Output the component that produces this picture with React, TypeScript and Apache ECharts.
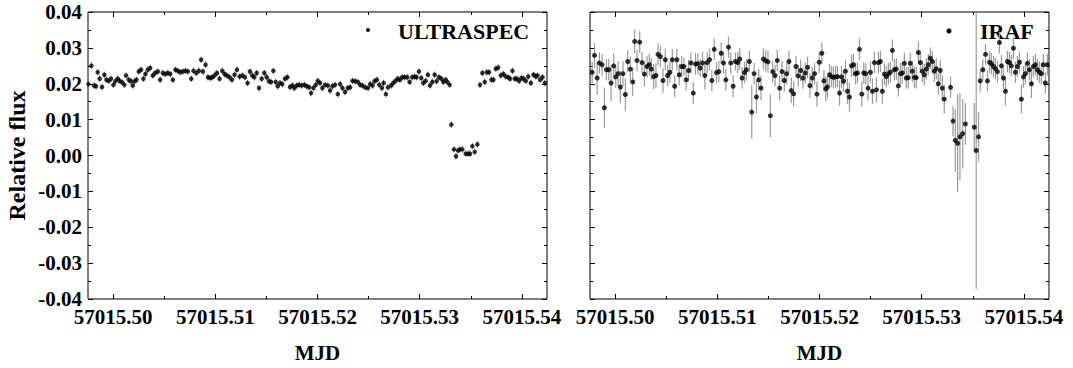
import React, { useEffect, useRef } from "react";
import * as echarts from "echarts";

// ULTRASPEC light curve: [MJD, relative flux]
const ultraspecPoints: number[][] = [
  [57015.4976, 0.0199], [57015.49788, 0.025], [57015.49814, 0.0195], [57015.49833, 0.0193], [57015.4985, 0.0232],
  [57015.49869, 0.0214], [57015.49892, 0.0191], [57015.49915, 0.0225], [57015.49935, 0.0211], [57015.49958, 0.0208],
  [57015.4998, 0.0214], [57015.50003, 0.0197], [57015.50023, 0.0207], [57015.50046, 0.0214], [57015.50065, 0.0208],
  [57015.50088, 0.0204], [57015.50111, 0.0197], [57015.50127, 0.0223], [57015.50154, 0.0211], [57015.50176, 0.0207],
  [57015.50193, 0.0195], [57015.50212, 0.0207], [57015.50229, 0.0211], [57015.50252, 0.0234], [57015.50274, 0.0239],
  [57015.50297, 0.0214], [57015.50317, 0.0227], [57015.5034, 0.0239], [57015.50363, 0.0244], [57015.50389, 0.0223],
  [57015.50412, 0.023], [57015.50438, 0.0234], [57015.50461, 0.0211], [57015.50487, 0.023], [57015.5051, 0.0227],
  [57015.50536, 0.023], [57015.50559, 0.0227], [57015.50585, 0.0211], [57015.50611, 0.0239], [57015.50634, 0.0236],
  [57015.50657, 0.0232], [57015.50683, 0.0234], [57015.50709, 0.0236], [57015.50732, 0.0234], [57015.50765, 0.0214],
  [57015.50787, 0.0236], [57015.50814, 0.023], [57015.5084, 0.0236], [57015.50862, 0.0267], [57015.50879, 0.0234],
  [57015.50905, 0.0253], [57015.50928, 0.0218], [57015.50951, 0.0216], [57015.5097, 0.0218], [57015.50993, 0.0223],
  [57015.51016, 0.023], [57015.51042, 0.0214], [57015.51068, 0.0236], [57015.51091, 0.0227], [57015.51114, 0.0223],
  [57015.5114, 0.0218], [57015.51163, 0.0211], [57015.51189, 0.0225], [57015.51212, 0.0239], [57015.51238, 0.022],
  [57015.51264, 0.0223], [57015.5129, 0.0218], [57015.51316, 0.0202], [57015.51339, 0.0234], [57015.51362, 0.0223],
  [57015.51382, 0.0218], [57015.51405, 0.023], [57015.51428, 0.0188], [57015.51454, 0.0214], [57015.5148, 0.023],
  [57015.51503, 0.0218], [57015.51526, 0.0207], [57015.51545, 0.0205], [57015.51568, 0.0236], [57015.51591, 0.0205],
  [57015.51611, 0.0193], [57015.51633, 0.0202], [57015.51656, 0.0199], [57015.51682, 0.0214], [57015.51705, 0.0218],
  [57015.51731, 0.0191], [57015.51754, 0.0195], [57015.51774, 0.0188], [57015.51797, 0.0195], [57015.5182, 0.0197],
  [57015.51846, 0.0195], [57015.51872, 0.0197], [57015.51895, 0.0193], [57015.51918, 0.019], [57015.51937, 0.0174],
  [57015.5196, 0.0188], [57015.51983, 0.0197], [57015.52003, 0.0208], [57015.52025, 0.0202], [57015.52048, 0.0188],
  [57015.52074, 0.0197], [57015.52101, 0.0195], [57015.52123, 0.0181], [57015.52146, 0.0193], [57015.52172, 0.0197],
  [57015.52199, 0.0171], [57015.52221, 0.0199], [57015.52244, 0.0188], [57015.5227, 0.0177], [57015.52297, 0.0188],
  [57015.52319, 0.019], [57015.52342, 0.0208], [57015.52368, 0.0207], [57015.52395, 0.0205], [57015.52417, 0.0197],
  [57015.5244, 0.0195], [57015.52466, 0.019], [57015.52493, 0.0188], [57015.52515, 0.0199], [57015.52538, 0.0195],
  [57015.52558, 0.0207], [57015.52581, 0.0211], [57015.52604, 0.0197], [57015.5263, 0.0188], [57015.52646, 0.0202],
  [57015.52669, 0.0171], [57015.52689, 0.019],
  [57015.52721, 0.0195], [57015.52741, 0.0202], [57015.52764, 0.0208], [57015.52786, 0.0214], [57015.52806, 0.0211],
  [57015.52829, 0.0218], [57015.52852, 0.0218], [57015.52878, 0.0218], [57015.52901, 0.0205], [57015.52927, 0.0218],
  [57015.5295, 0.022], [57015.52969, 0.0218], [57015.52992, 0.0234], [57015.53015, 0.0216], [57015.53035, 0.0202],
  [57015.53058, 0.0208], [57015.5308, 0.0225], [57015.531, 0.0195], [57015.53123, 0.0205], [57015.53146, 0.0225],
  [57015.53165, 0.0207], [57015.53188, 0.0218], [57015.53211, 0.0214], [57015.53231, 0.0205], [57015.53254, 0.0211],
  [57015.5327, 0.0205], [57015.53293, 0.0197], [57015.53309, 0.0086], [57015.53335, 0.0017], [57015.53355, -0.0002],
  [57015.53375, 0.0014], [57015.53394, 0.0017], [57015.53417, 0.0017], [57015.5345, 0.0005], [57015.53473, 0.0005],
  [57015.53492, 0.0005], [57015.53515, 0.0026], [57015.53538, 0.001], [57015.53564, 0.0031], [57015.5359, 0.0197],
  [57015.53613, 0.023], [57015.53636, 0.0205], [57015.53656, 0.0232], [57015.53678, 0.0232], [57015.53701, 0.0211],
  [57015.53721, 0.0211], [57015.53744, 0.0242], [57015.53767, 0.0245], [57015.53793, 0.0223], [57015.53819, 0.0227],
  [57015.53842, 0.022], [57015.53865, 0.0218], [57015.53884, 0.0214], [57015.53907, 0.0236], [57015.5393, 0.0214],
  [57015.5395, 0.0214], [57015.53972, 0.0208], [57015.53995, 0.0216], [57015.54015, 0.0214], [57015.54038, 0.0208],
  [57015.54061, 0.022], [57015.54087, 0.0202], [57015.54113, 0.0225], [57015.54136, 0.022], [57015.54152, 0.0223],
  [57015.54178, 0.0211], [57015.54201, 0.0218], [57015.54224, 0.0202],
];
const ULTRASPEC_ERR = 0.0009;

// IRAF light curve: [MJD, relative flux, error]
const irafPoints: number[][] = [
  [57015.49776, 0.0232, 0.003], [57015.49799, 0.0279, 0.0035], [57015.49825, 0.0216, 0.0045], [57015.49847, 0.0258, 0.003],
  [57015.49873, 0.0253, 0.003], [57015.49896, 0.0133, 0.0056], [57015.49916, 0.0239, 0.003], [57015.49938, 0.0239, 0.003],
  [57015.49961, 0.0202, 0.005], [57015.49987, 0.025, 0.0035], [57015.50007, 0.0219, 0.003], [57015.5003, 0.0228, 0.0035],
  [57015.50052, 0.0191, 0.0045], [57015.50078, 0.0228, 0.0035], [57015.50101, 0.017, 0.0045], [57015.50124, 0.0262, 0.003],
  [57015.5015, 0.0241, 0.0035], [57015.50173, 0.0205, 0.004], [57015.50192, 0.0318, 0.0033], [57015.50215, 0.0265, 0.003],
  [57015.50241, 0.0316, 0.003], [57015.50264, 0.0259, 0.003], [57015.50287, 0.0227, 0.0035], [57015.50313, 0.0248, 0.003],
  [57015.50335, 0.0253, 0.003], [57015.50355, 0.0241, 0.003], [57015.50378, 0.022, 0.0035], [57015.504, 0.0223, 0.0035],
  [57015.5042, 0.0282, 0.003], [57015.50443, 0.0276, 0.003], [57015.50469, 0.0209, 0.0035], [57015.50492, 0.0267, 0.003],
  [57015.50514, 0.0223, 0.003], [57015.50537, 0.0232, 0.003], [57015.5056, 0.0267, 0.003], [57015.50583, 0.0193, 0.003],
  [57015.50605, 0.0267, 0.003], [57015.50628, 0.0225, 0.003], [57015.50651, 0.0248, 0.003], [57015.50674, 0.0248, 0.0025],
  [57015.50696, 0.0211, 0.003], [57015.50719, 0.0237, 0.003], [57015.50742, 0.0258, 0.003], [57015.50765, 0.0174, 0.003],
  [57015.50787, 0.0255, 0.003], [57015.5081, 0.0256, 0.003], [57015.50833, 0.0244, 0.0025], [57015.50856, 0.0258, 0.003],
  [57015.50879, 0.0223, 0.004], [57015.50901, 0.0259, 0.003], [57015.50924, 0.0267, 0.003], [57015.50947, 0.0209, 0.003],
  [57015.5097, 0.0296, 0.003], [57015.50992, 0.0231, 0.003], [57015.51015, 0.0234, 0.003], [57015.51038, 0.0285, 0.003],
  [57015.51061, 0.0258, 0.003], [57015.51084, 0.0211, 0.003], [57015.5111, 0.0302, 0.003], [57015.51132, 0.0258, 0.003],
  [57015.51155, 0.0193, 0.003], [57015.51178, 0.0262, 0.0025], [57015.51201, 0.0259, 0.003], [57015.5122, 0.0269, 0.003],
  [57015.51243, 0.0216, 0.003], [57015.51266, 0.0231, 0.003],
  [57015.51285, 0.0239, 0.003], [57015.51314, 0.0262, 0.003], [57015.51337, 0.0121, 0.0074], [57015.5136, 0.0228, 0.003],
  [57015.51383, 0.0163, 0.0046], [57015.51405, 0.0211, 0.003], [57015.51428, 0.0188, 0.0035], [57015.51451, 0.0269, 0.003],
  [57015.51474, 0.0264, 0.003], [57015.51496, 0.0261, 0.003], [57015.51519, 0.0111, 0.006], [57015.51542, 0.0234, 0.003],
  [57015.51565, 0.0223, 0.003], [57015.51587, 0.0265, 0.003], [57015.5161, 0.0188, 0.0035], [57015.51633, 0.0234, 0.003],
  [57015.51656, 0.0209, 0.003], [57015.51679, 0.0228, 0.003], [57015.51701, 0.0262, 0.003], [57015.51724, 0.0181, 0.0035],
  [57015.51747, 0.0172, 0.0035], [57015.5177, 0.0248, 0.003], [57015.51792, 0.0222, 0.003], [57015.51815, 0.0237, 0.003],
  [57015.51838, 0.0216, 0.003], [57015.51861, 0.023, 0.003], [57015.51883, 0.0246, 0.003], [57015.51906, 0.0195, 0.0035],
  [57015.51929, 0.0216, 0.003], [57015.51952, 0.0228, 0.003], [57015.51975, 0.0171, 0.0035], [57015.51997, 0.026, 0.003],
  [57015.52023, 0.0285, 0.003], [57015.52043, 0.0208, 0.003], [57015.52062, 0.0186, 0.0035], [57015.52078, 0.0191, 0.003],
  [57015.52098, 0.0225, 0.003], [57015.52118, 0.022, 0.003], [57015.52137, 0.0218, 0.003], [57015.52157, 0.0219, 0.003],
  [57015.52176, 0.022, 0.003], [57015.52196, 0.0174, 0.0035], [57015.52215, 0.0219, 0.003], [57015.52235, 0.0207, 0.003],
  [57015.52254, 0.0235, 0.003], [57015.52274, 0.0179, 0.0035], [57015.52293, 0.0163, 0.004], [57015.52313, 0.025, 0.003],
  [57015.52332, 0.0253, 0.003], [57015.52352, 0.0228, 0.003], [57015.52371, 0.023, 0.003], [57015.52391, 0.0296, 0.003],
  [57015.52414, 0.0171, 0.0035], [57015.52433, 0.023, 0.003], [57015.52453, 0.0228, 0.003], [57015.52475, 0.0188, 0.0035],
  [57015.52498, 0.0232, 0.003], [57015.52518, 0.0179, 0.0035], [57015.52537, 0.0259, 0.003], [57015.52557, 0.0183, 0.0035],
  [57015.52576, 0.0259, 0.003], [57015.52596, 0.0262, 0.003], [57015.52615, 0.0179, 0.0035], [57015.52635, 0.0227, 0.003],
  [57015.52654, 0.022, 0.003], [57015.52674, 0.0228, 0.003], [57015.52693, 0.0232, 0.003], [57015.52713, 0.0293, 0.003],
  [57015.52732, 0.0239, 0.003], [57015.52752, 0.0241, 0.003], [57015.52771, 0.0194, 0.003], [57015.52791, 0.0228, 0.003],
  [57015.5281, 0.023, 0.003], [57015.5283, 0.0257, 0.003], [57015.52849, 0.0216, 0.003], [57015.52869, 0.0217, 0.003],
  [57015.52888, 0.0257, 0.003], [57015.52908, 0.0235, 0.003], [57015.52928, 0.0218, 0.003], [57015.52947, 0.0217, 0.003],
  [57015.52967, 0.0287, 0.003], [57015.52986, 0.0259, 0.003], [57015.53006, 0.0235, 0.003], [57015.53025, 0.0225, 0.003],
  [57015.53045, 0.0241, 0.003], [57015.53064, 0.0253, 0.003], [57015.53084, 0.0271, 0.003], [57015.53103, 0.0262, 0.003],
  [57015.53123, 0.0235, 0.003], [57015.53142, 0.0242, 0.003], [57015.53162, 0.02, 0.003], [57015.53181, 0.0237, 0.003],
  [57015.53201, 0.0188, 0.0035], [57015.5322, 0.0157, 0.004],
  [57015.53282, 0.019, 0.003], [57015.53306, 0.0096, 0.0042], [57015.53328, 0.0042, 0.0088], [57015.53351, 0.0034, 0.0136],
  [57015.53374, 0.0052, 0.0122], [57015.53401, 0.0061, 0.0097], [57015.53427, 0.0088, 0.0058], [57015.53514, 0.0079, 0.0067],
  [57015.53533, 0.0014, 0.0386], [57015.53556, 0.0052, 0.0069],
  [57015.53572, 0.0208, 0.003], [57015.53598, 0.0239, 0.003], [57015.53624, 0.0282, 0.003], [57015.53643, 0.0208, 0.003],
  [57015.53663, 0.026, 0.003], [57015.53682, 0.0256, 0.003], [57015.53702, 0.0248, 0.003], [57015.53721, 0.0242, 0.003],
  [57015.53741, 0.0234, 0.003], [57015.5376, 0.0315, 0.003], [57015.5378, 0.025, 0.003], [57015.53799, 0.0216, 0.003],
  [57015.53819, 0.0179, 0.004], [57015.53838, 0.0262, 0.003], [57015.53858, 0.0259, 0.003], [57015.53877, 0.025, 0.003],
  [57015.53897, 0.0299, 0.003], [57015.53916, 0.0232, 0.003], [57015.53936, 0.0248, 0.003], [57015.53956, 0.026, 0.003],
  [57015.53975, 0.0157, 0.004], [57015.53995, 0.0219, 0.003], [57015.54014, 0.0228, 0.003], [57015.54034, 0.0257, 0.003],
  [57015.54053, 0.0239, 0.003], [57015.54073, 0.02, 0.004], [57015.54092, 0.0248, 0.003], [57015.54112, 0.0253, 0.003],
  [57015.54131, 0.0239, 0.003], [57015.54151, 0.0232, 0.003], [57015.5417, 0.0228, 0.003], [57015.5419, 0.0253, 0.003],
  [57015.54209, 0.0202, 0.003], [57015.54229, 0.0253, 0.003],
];

const X_MIN = 57015.49755;
const X_MAX = 57015.54245;
const X_MAJOR = [57015.5, 57015.51, 57015.52, 57015.53, 57015.54];
const X_MINOR = [57015.505, 57015.515, 57015.525, 57015.535];
const Y_MIN = -0.04;
const Y_MAX = 0.04;
const Y_STEP = 0.01;
const PANEL_LABELS = ["ULTRASPEC", "IRAF"];
const X_NAME = "MJD";
const Y_NAME = "Relative flux";

const FONT = "Liberation Serif";

export default function App() {
  const ref = useRef<HTMLDivElement>(null);

  useEffect(() => {
    if (!ref.current) return;
    const chart = echarts.init(ref.current, null, { renderer: "svg" });

    const labelStyle = { fontFamily: FONT, fontWeight: "bold" as const, fontSize: 21, color: "#000" };
    const tickLine = { color: "#000", width: 1 };
    const noLine = { show: false, onZero: false };

    const makeX = (gridIndex: number) => [
      {
        gridIndex, type: "value", position: "bottom", min: X_MIN, max: X_MAX,
        axisLine: noLine, splitLine: { show: false },
        axisTick: { show: true, inside: true, length: 5, customValues: X_MAJOR, lineStyle: tickLine },
        axisLabel: { show: true, customValues: X_MAJOR, formatter: (v: number) => v.toFixed(2), margin: 7, ...labelStyle },
        name: X_NAME, nameLocation: "middle", nameGap: 43,
        nameTextStyle: { ...labelStyle },
      },
      {
        gridIndex, type: "value", position: "bottom", min: X_MIN, max: X_MAX,
        axisLine: noLine, splitLine: { show: false }, axisLabel: { show: false },
        axisTick: { show: true, inside: true, length: 3, customValues: X_MINOR, lineStyle: tickLine },
      },
      {
        gridIndex, type: "value", position: "top", min: X_MIN, max: X_MAX,
        axisLine: noLine, splitLine: { show: false }, axisLabel: { show: false },
        axisTick: { show: true, inside: true, length: 5, customValues: X_MAJOR, lineStyle: tickLine },
      },
      {
        gridIndex, type: "value", position: "top", min: X_MIN, max: X_MAX,
        axisLine: noLine, splitLine: { show: false }, axisLabel: { show: false },
        axisTick: { show: true, inside: true, length: 3, customValues: X_MINOR, lineStyle: tickLine },
      },
    ];

    const makeY = (gridIndex: number, withLabels: boolean) => [
      {
        gridIndex, type: "value", position: "left", min: Y_MIN, max: Y_MAX, interval: Y_STEP,
        axisLine: noLine, splitLine: { show: false },
        axisTick: { show: true, inside: true, length: 5, lineStyle: tickLine },
        minorTick: { show: true, splitNumber: 2, length: 3, lineStyle: tickLine },
        axisLabel: {
          show: withLabels, margin: 6,
          formatter: (v: number) => (Math.abs(v) < 1e-9 ? 0 : v).toFixed(2),
          ...labelStyle,
        },
        name: withLabels ? Y_NAME : "", nameLocation: "middle", nameGap: 59,
        nameTextStyle: { ...labelStyle, fontSize: 24 },
      },
      {
        gridIndex, type: "value", position: "right", min: Y_MIN, max: Y_MAX, interval: Y_STEP,
        axisLine: noLine, splitLine: { show: false }, axisLabel: { show: false },
        axisTick: { show: true, inside: true, length: 5, lineStyle: tickLine },
        minorTick: { show: true, splitNumber: 2, length: 3, lineStyle: tickLine },
      },
    ];

    const errBar = (color: string, width: number) => (params: any, api: any) => {
      const x = api.value(0);
      const y = api.value(1);
      const e = api.value(2);
      const p1 = api.coord([x, y - e]);
      const p2 = api.coord([x, y + e]);
      return {
        type: "line",
        shape: { x1: p1[0], y1: p1[1], x2: p2[0], y2: p2[1] },
        style: { stroke: color, lineWidth: width },
      };
    };

    const ultraErrData = ultraspecPoints.map((p) => [p[0], p[1], ULTRASPEC_ERR]);

    chart.setOption({
      animation: false,
      backgroundColor: "#fff",
      grid: [
        { left: 88, top: 12, width: 459, height: 288, show: true, borderColor: "#000", borderWidth: 1, backgroundColor: "transparent" },
        { left: 590, top: 12, width: 459, height: 288, show: true, borderColor: "#000", borderWidth: 1, backgroundColor: "transparent" },
      ],
      xAxis: [...makeX(0), ...makeX(1)],
      yAxis: [...makeY(0, true), ...makeY(1, false)],
      series: [
        {
          type: "custom", name: "ULTRASPEC err", xAxisIndex: 0, yAxisIndex: 0, data: ultraErrData,
          encode: { x: 0, y: [1] }, renderItem: errBar("#707070", 1), clip: true, z: 1, silent: true,
        },
        {
          type: "scatter", name: PANEL_LABELS[0], xAxisIndex: 0, yAxisIndex: 0, data: ultraspecPoints,
          symbol: "circle", symbolSize: 4.5, itemStyle: { color: "#000" }, clip: true, z: 2, silent: true,
        },
        {
          type: "custom", name: "IRAF err", xAxisIndex: 4, yAxisIndex: 2, data: irafPoints,
          encode: { x: 0, y: [1] }, renderItem: errBar("#9a9a9a", 1.2), clip: true, z: 1, silent: true,
        },
        {
          type: "scatter", name: PANEL_LABELS[1], xAxisIndex: 4, yAxisIndex: 2,
          data: irafPoints.map((p) => [p[0], p[1]]),
          symbol: "circle", symbolSize: 5, itemStyle: { color: "#000" }, clip: true, z: 2, silent: true,
        },
      ],
      graphic: [
        { type: "circle", shape: { cx: 368, cy: 30, r: 2 }, style: { fill: "#000" } },
        {
          type: "text", x: 398, y: 31,
          style: { text: PANEL_LABELS[0], fontFamily: FONT, fontWeight: "bold", fontSize: 22, fill: "#000", verticalAlign: "middle" },
        },
        { type: "circle", shape: { cx: 949, cy: 31, r: 2.5 }, style: { fill: "#000" } },
        {
          type: "text", x: 980, y: 31,
          style: { text: PANEL_LABELS[1], fontFamily: FONT, fontWeight: "bold", fontSize: 22, fill: "#000", verticalAlign: "middle" },
        },
      ],
    });

    return () => chart.dispose();
  }, []);

  return (
    <div
      ref={ref}
      style={{ position: "fixed", left: 0, top: 0, width: 1073, height: 368, background: "#fff" }}
    />
  );
}
